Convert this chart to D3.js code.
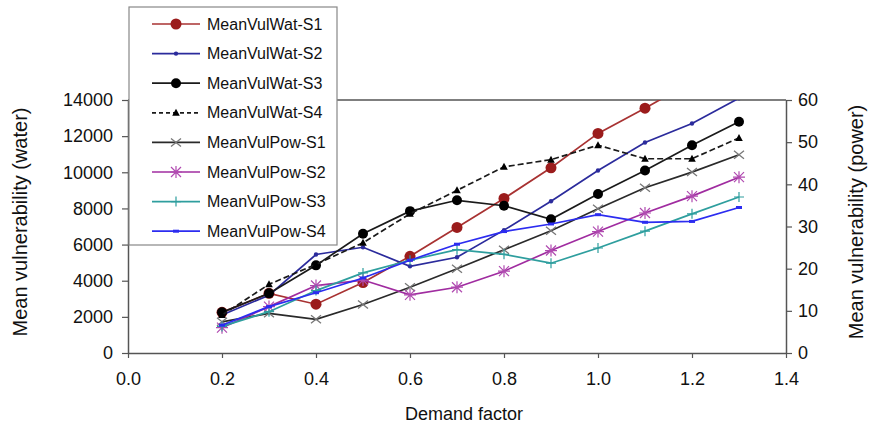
<!DOCTYPE html>
<html><head><meta charset="utf-8">
<script src="https://cdn.jsdelivr.net/npm/d3@7"></script>
<style>
html,body{margin:0;padding:0;background:#fff;}
text{font-family:"Liberation Sans",Arial,Helvetica,sans-serif;}
</style></head>
<body><svg id="c" width="869" height="432"></svg>
<script>
const demand = [0.2,0.3,0.4,0.5,0.6,0.7,0.8,0.9,1.0,1.1,1.2,1.3];
const watS1 = [2250,3300,2700,3900,5350,6950,8550,10250,12150,13550,15000,16500];
const watS2 = [2100,3200,5450,5850,4800,5300,6800,8400,10100,11650,12700,14100];
const watS3 = [2250,3300,4850,6600,7850,8450,8150,7400,8800,10100,11500,12800];
const watS4 = [2100,3800,4900,6100,7700,9000,10300,10700,11500,10750,10750,11900];
const powS1 = [7.4,9.4,8.0,11.5,15.6,20.0,24.5,29.0,34.2,39.2,42.9,47.0];
const powS2 = [6.0,11.0,16.0,17.3,13.8,15.6,19.4,24.3,28.8,33.2,37.2,41.7];
const powS3 = [6.3,9.8,14.8,19.0,22.0,24.5,23.4,21.3,24.9,28.9,33.0,37.0];
const powS4 = [6.6,11.0,14.3,17.8,22.0,25.8,28.8,30.6,32.8,31.0,31.2,34.5];
const xTicks = [0,0.2,0.4,0.6,0.8,1.0,1.2,1.4];
const yLeftTicks = [0,2000,4000,6000,8000,10000,12000,14000];
const yRightTicks = [0,10,20,30,40,50,60];

const series = [
  {name:"MeanVulWat-S1", vals:watS1, axis:"L", color:"#a83232", mcolor:"#9b1c1c", marker:"bigcircle", dash:null},
  {name:"MeanVulWat-S2", vals:watS2, axis:"L", color:"#2b2b9c", mcolor:"#2b2b9c", marker:"dot", dash:null},
  {name:"MeanVulWat-S3", vals:watS3, axis:"L", color:"#1a1a1a", mcolor:"#000", marker:"circle", dash:null},
  {name:"MeanVulWat-S4", vals:watS4, axis:"L", color:"#1a1a1a", mcolor:"#000", marker:"triangle", dash:"6,3"},
  {name:"MeanVulPow-S1", vals:powS1, axis:"R", color:"#2a2a2a", mcolor:"#777", marker:"x", dash:null},
  {name:"MeanVulPow-S2", vals:powS2, axis:"R", color:"#a02ca0", mcolor:"#b04ab0", marker:"star", dash:null},
  {name:"MeanVulPow-S3", vals:powS3, axis:"R", color:"#2e9e9e", mcolor:"#2e9e9e", marker:"plus", dash:null},
  {name:"MeanVulPow-S4", vals:powS4, axis:"R", color:"#2c2cf0", mcolor:"#2c2cf0", marker:"dash", dash:null}
];

const svg = d3.select("#c");
const L=128, R=786, T=100, B=353;
const x = d3.scaleLinear().domain([0,1.4]).range([L,R]);
const yL = d3.scaleLinear().domain([0,14000]).range([B,T]);
const yR = d3.scaleLinear().domain([0,60]).range([B,T]);

svg.append("defs").append("clipPath").attr("id","clip")
  .append("rect").attr("x",L).attr("y",T).attr("width",R-L).attr("height",B-T);

svg.append("line").attr("x1",L).attr("x2",R).attr("y1",T).attr("y2",T).attr("stroke","#555").attr("stroke-width",1.5);

function styleAxis(g){
  g.select(".domain").attr("stroke","#555").attr("stroke-width",1.5);
  g.selectAll(".tick line").attr("stroke","#555").attr("stroke-width",1.2);
  g.selectAll("text").attr("font-size","18px").attr("fill","#111").style("font-family",'"Liberation Sans",Arial,sans-serif');
}
svg.append("g").attr("transform",`translate(0,${B})`)
  .call(d3.axisBottom(x).tickValues(xTicks).tickFormat(d3.format(".1f")).tickSize(5).tickSizeOuter(0).tickPadding(14))
  .call(styleAxis);
svg.append("g").attr("transform",`translate(${L},0)`)
  .call(d3.axisLeft(yL).tickValues(yLeftTicks).tickFormat(d3.format("d")).tickSize(6).tickSizeOuter(0).tickPadding(9))
  .call(styleAxis);
svg.append("g").attr("transform",`translate(${R},0)`)
  .call(d3.axisRight(yR).tickValues(yRightTicks).tickSize(6).tickSizeOuter(0).tickPadding(6))
  .call(styleAxis);

svg.append("text").attr("transform","translate(27,222) rotate(-90)").attr("text-anchor","middle")
  .attr("font-size","20px").attr("fill","#111").text("Mean vulnerability (water)");
svg.append("text").attr("transform","translate(863,222) rotate(-90)").attr("text-anchor","middle")
  .attr("font-size","20px").attr("fill","#111").text("Mean vulnerability (power)");
svg.append("text").attr("x",464).attr("y",420).attr("text-anchor","middle")
  .attr("font-size","18px").attr("fill","#111").text("Demand factor");

function drawMarker(g, type, cx, cy, col){
  if(type==="bigcircle") g.append("circle").attr("cx",cx).attr("cy",cy).attr("r",5.5).attr("fill",col);
  else if(type==="circle") g.append("circle").attr("cx",cx).attr("cy",cy).attr("r",5).attr("fill",col);
  else if(type==="dot") g.append("circle").attr("cx",cx).attr("cy",cy).attr("r",2.2).attr("fill",col);
  else if(type==="triangle") g.append("path").attr("d",`M${cx},${cy-4}L${cx+3.8},${cy+3}L${cx-3.8},${cy+3}Z`).attr("fill",col);
  else if(type==="x") g.append("path").attr("d",`M${cx-5},${cy-4}L${cx+5},${cy+4}M${cx-5},${cy+4}L${cx+5},${cy-4}`).attr("stroke",col).attr("stroke-width",1.3);
  else if(type==="star") g.append("path").attr("d",`M${cx-5},${cy-5}L${cx+5},${cy+5}M${cx-5},${cy+5}L${cx+5},${cy-5}M${cx},${cy-6}L${cx},${cy+6}M${cx-6},${cy}L${cx+6},${cy}`).attr("stroke",col).attr("stroke-width",1.2);
  else if(type==="plus") g.append("path").attr("d",`M${cx},${cy-5}L${cx},${cy+5}M${cx-5},${cy}L${cx+5},${cy}`).attr("stroke",col).attr("stroke-width",1.2);
  else if(type==="dash") g.append("path").attr("d",`M${cx-3},${cy}L${cx+3},${cy}`).attr("stroke",col).attr("stroke-width",3);
}

const plot = svg.append("g").attr("clip-path","url(#clip)");
series.forEach(s=>{
  const ys = s.axis==="L"? yL : yR;
  const line = d3.line().x((d,i)=>x(demand[i])).y(d=>ys(d));
  const p = plot.append("path").datum(s.vals).attr("d",line).attr("fill","none")
    .attr("stroke",s.color).attr("stroke-width",1.7);
  if(s.dash) p.attr("stroke-dasharray",s.dash);
  const mg = plot.append("g");
  s.vals.forEach((v,i)=>drawMarker(mg, s.marker, x(demand[i]), ys(v), s.mcolor));
});

const lg = svg.append("g");
lg.append("rect").attr("x",129).attr("y",7).attr("width",208).attr("height",238)
  .attr("fill","#fff").attr("stroke","#888").attr("stroke-width",1.2);
series.forEach((s,i)=>{
  const yy = 24 + i*29.6;
  const l = lg.append("line").attr("x1",152).attr("x2",200).attr("y1",yy).attr("y2",yy)
    .attr("stroke",s.color).attr("stroke-width",1.7);
  if(s.dash) l.attr("stroke-dasharray","4,3");
  drawMarker(lg, s.marker, 176, yy, s.mcolor);
  lg.append("text").attr("x",207).attr("y",yy).attr("dy","0.35em").attr("font-size","16px")
    .attr("fill","#111").text(s.name);
});
</script></body></html>
